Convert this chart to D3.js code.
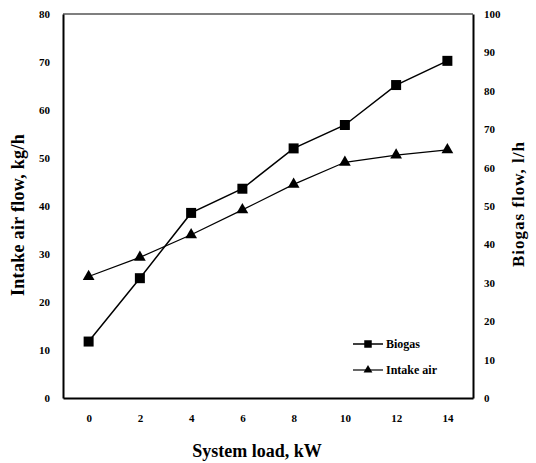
<!DOCTYPE html>
<html>
<head>
<meta charset="utf-8">
<script src="https://cdn.jsdelivr.net/npm/d3@7"></script>
<style>
  body { margin: 0; background: #fff; }
  svg text { font-family: "Liberation Serif", "Times New Roman", Times, serif !important; font-weight: 700; fill: #000; }
</style>
</head>
<body>
<div id="chart"></div>
<script>
var svgWidth = 536;
var svgHeight = 463;

var margin = { top: 14, right: 63, bottom: 65, left: 63 };
var width = svgWidth - margin.left - margin.right;
var height = svgHeight - margin.top - margin.bottom;

// data
var loads = ["0", "2", "4", "6", "8", "10", "12", "14"];
var biogasFlow = [14.7, 31.2, 48.2, 54.5, 65.0, 71.1, 81.5, 87.8];   // l/h, right axis
var intakeAir = [25.3, 29.3, 34.0, 39.2, 44.5, 49.1, 50.6, 51.7];     // kg/h, left axis
var leftTicks = [0, 10, 20, 30, 40, 50, 60, 70, 80];
var rightTicks = [0, 10, 20, 30, 40, 50, 60, 70, 80, 90, 100];

var svg = d3.select("#chart")
    .append("svg")
    .attr("width", svgWidth)
    .attr("height", svgHeight);

var chartGroup = svg.append("g")
    .attr("transform", `translate(${margin.left}, ${margin.top})`);

var xScale = d3.scalePoint()
    .domain(loads)
    .range([0, width])
    .padding(0.5);

var yLeft = d3.scaleLinear().domain([0, 80]).range([height, 0]);
var yRight = d3.scaleLinear().domain([0, 100]).range([height, 0]);

// frame top
chartGroup.append("line").attr("x1", 0).attr("x2", width).attr("y1", 0).attr("y2", 0)
    .attr("stroke", "#000").attr("stroke-width", 1.2);

var bottomAxis = d3.axisBottom(xScale).tickSize(0).tickPadding(16);
var leftAxis = d3.axisLeft(yLeft).tickValues(leftTicks).tickSize(0).tickPadding(13);
var rightAxis = d3.axisRight(yRight).tickValues(rightTicks).tickSize(0).tickPadding(11);

var gx = chartGroup.append("g")
    .attr("transform", `translate(0,${height})`)
    .call(bottomAxis);
var gl = chartGroup.append("g").call(leftAxis);
var gr = chartGroup.append("g")
    .attr("transform", `translate(${width},0)`)
    .call(rightAxis);

[gx, gl, gr].forEach(function(g) {
    g.attr("font-family", null).attr("font-size", null);
    g.select(".domain").attr("stroke", "#000").attr("stroke-width", 2);
    g.selectAll("text").style("font-size", "11px");
});

// axis titles
svg.append("text")
    .attr("x", 257)
    .attr("y", 457)
    .attr("text-anchor", "middle")
    .style("font-size", "18px")
    .text("System load, kW");

chartGroup.append("text")
    .attr("transform", "rotate(-90)")
    .attr("x", -201)
    .attr("y", -39)
    .attr("text-anchor", "middle")
    .style("font-size", "18px")
    .style("letter-spacing", "0.3px")
    .text("Intake air flow, kg/h");

chartGroup.append("text")
    .attr("transform", "rotate(-90)")
    .attr("x", -190)
    .attr("y", width + 51)
    .attr("text-anchor", "middle")
    .style("font-size", "17px")
    .style("letter-spacing", "1px")
    .text("Biogas flow, l/h");

// lines
var biogasLine = d3.line()
    .x(function(d, i) { return xScale(loads[i]); })
    .y(function(d) { return yRight(d); });

var airLine = d3.line()
    .x(function(d, i) { return xScale(loads[i]); })
    .y(function(d) { return yLeft(d); });

chartGroup.append("path")
    .datum(biogasFlow)
    .attr("d", biogasLine)
    .attr("fill", "none")
    .attr("stroke", "#000")
    .attr("stroke-width", 1.5);

chartGroup.append("path")
    .datum(intakeAir)
    .attr("d", airLine)
    .attr("fill", "none")
    .attr("stroke", "#000")
    .attr("stroke-width", 1.2);

var square = d3.symbol().type(d3.symbolSquare).size(100);
var triangle = d3.symbol().type(d3.symbolTriangle).size(60);

chartGroup.selectAll(".sq")
    .data(biogasFlow)
    .enter()
    .append("path")
    .attr("class", "sq")
    .attr("d", square)
    .attr("transform", function(d, i) { return `translate(${xScale(loads[i])},${yRight(d)})`; })
    .attr("fill", "#000");

chartGroup.selectAll(".tri")
    .data(intakeAir)
    .enter()
    .append("path")
    .attr("class", "tri")
    .attr("d", triangle)
    .attr("transform", function(d, i) { return `translate(${xScale(loads[i])},${yLeft(d)})`; })
    .attr("fill", "#000");

// legend
var legend = chartGroup.append("g").attr("transform", "translate(290, 330)");
var legendItems = [
    { name: "Biogas", sym: square, sw: 1.5 },
    { name: "Intake air", sym: triangle, sw: 1.2 }
];
legendItems.forEach(function(item, i) {
    var g = legend.append("g").attr("transform", `translate(0, ${i * 26})`);
    g.append("line").attr("x1", 0).attr("x2", 30).attr("y1", 0).attr("y2", 0)
        .attr("stroke", "#000").attr("stroke-width", item.sw);
    g.append("path").attr("d", item.sym).attr("fill", "#000")
        .attr("transform", "translate(15,0) scale(0.75)");
    g.append("text").attr("x", 33).attr("y", 4)
        .style("font-size", "12px")
        .text(item.name);
});
</script>
</body>
</html>
